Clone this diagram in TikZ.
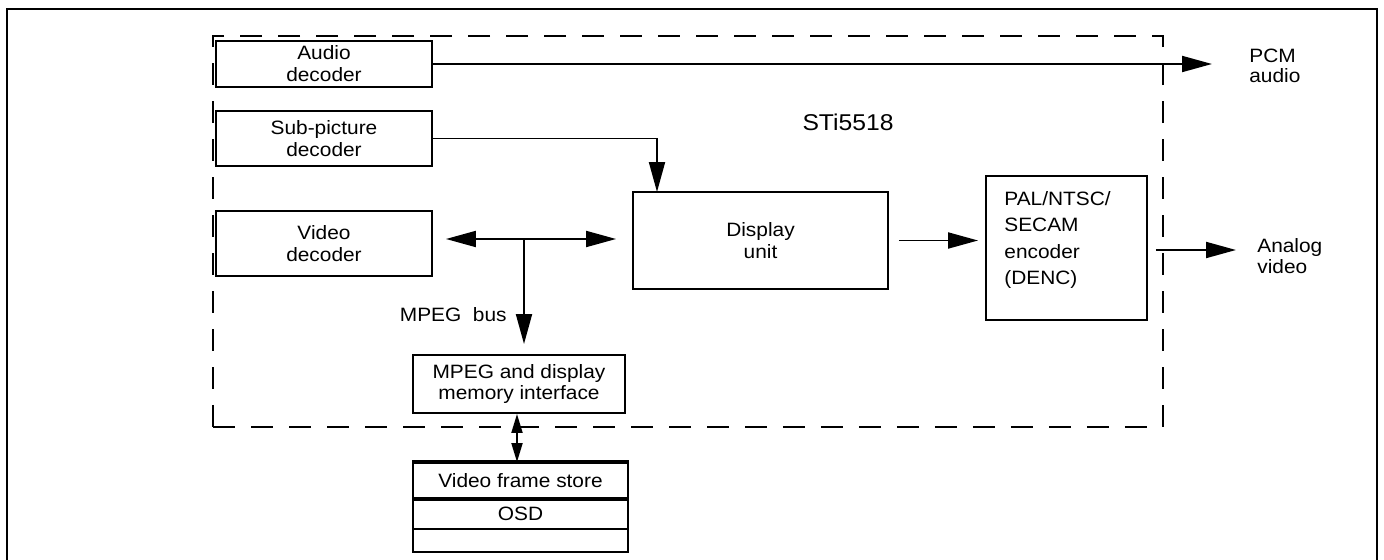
\documentclass[tikz,border=0pt]{standalone}
\usepackage{fontspec}
\setmainfont{Liberation Sans}[FakeStretch=1.08]
\usetikzlibrary{arrows.meta,positioning,calc}

\tikzset{
  blockbox/.style={draw, line width=1.1pt, inner sep=0pt, align=center,
    font=\fontsize{11}{12.5}\selectfont},
  chipbox/.style={draw, line width=1.1pt, dash pattern=on 0.44cm off 0.32cm},
  sigline/.style={line width=1.1pt, -{Triangle[length=0.6cm,width=0.32cm]}},
  busline/.style={line width=1.1pt,
    {Triangle[length=0.6cm,width=0.32cm]}-{Triangle[length=0.6cm,width=0.32cm]}},
  memline/.style={line width=1.1pt,
    {Triangle[length=0.38cm,width=0.22cm]}-{Triangle[length=0.38cm,width=0.22cm]}},
  outlabel/.style={anchor=west, inner sep=0pt, align=left,
    font=\fontsize{11}{11.5}\selectfont}
}

\begin{document}
\begin{tikzpicture}[x=0.02cm, y=-0.02cm]
\useasboundingbox (0,0) rectangle (1384,560);

% -------- Outer frame --------
\draw[line width=1.3pt] (7,560) -- (7,9) -- (1377,9) -- (1377,560);

% -------- Chip boundary (dashed) --------
\node[chipbox, minimum width=19cm, minimum height=7.82cm] (chip) at (688,231.5) {};
\node[font=\fontsize{13}{15}\selectfont] (chipname) at (848,122) {STi5518};

% -------- Decoders --------
\node[blockbox, minimum width=4.32cm, minimum height=0.92cm] (audio) at (324,64)
{Audio\\decoder};
\node[blockbox, minimum width=4.32cm, minimum height=1.1cm] (sub) at (324,138.5)
{Sub-picture\\decoder};
\node[blockbox, minimum width=4.32cm, minimum height=1.3cm] (video) at (324,243.5)
{Video\\decoder};

% -------- Display and encoder --------
\node[blockbox, minimum width=5.1cm, minimum height=1.94cm] (display) at (760.5,240.5)
{Display\\unit};
\node[blockbox, minimum width=3.22cm, minimum height=2.88cm] (denc) at (1066.5,248) {};
\node[anchor=north west, inner sep=0pt, align=left, font=\fontsize{11}{15}\selectfont]
(denctext) at ([xshift=0.38cm,yshift=-0.32cm]denc.north west)
{PAL/NTSC/\\SECAM\\encoder\\(DENC)};

% -------- Memory interface and frame store --------
\node[blockbox, minimum width=4.24cm, minimum height=1.16cm] (memif) at (519,384)
{MPEG and display\\memory interface};
\node[blockbox, minimum width=4.3cm, minimum height=0.7cm] (frame) at (520.5,480.5)
{Video frame store};
\node[blockbox, minimum width=4.3cm, minimum height=0.62cm] (osd) at (520.5,513.5)
{OSD};
\node[blockbox, minimum width=4.3cm, minimum height=0.46cm] (spare) at (520.5,540.5) {};
\draw[line width=2pt] (frame.north west) -- (frame.north east);
\draw[line width=2pt] (frame.south west) -- (frame.south east);

% -------- Outputs --------
\coordinate (pcmend) at (1212,64);
\node[outlabel] (pcm) at (1249,66) {PCM\\audio};
\coordinate (analogend) at (1236,250);
\node[outlabel] (analog) at (1257,256) {Analog\\video};

% -------- Connectors --------
\coordinate (subin) at (657,192);
\coordinate (busjoint) at (524,239);
\draw[sigline] (audio.east) -- (pcmend);
\draw[sigline] (sub.east) -| (subin);
\draw[busline, shorten <=0.26cm, shorten >=0.32cm] (busjoint -| video.east) -- (busjoint -| display.west);
\draw[sigline, shorten >=0.2cm] (busjoint) -- (busjoint |- memif.north);
\node[anchor=east, inner sep=0pt, font=\fontsize{11}{12.5}\selectfont] (buslabel) at (507,315) {MPEG~ bus};
\draw[sigline, shorten <=0.2cm, shorten >=0.14cm] (display.east) -- (display.east -| denc.west);
\draw[sigline, shorten <=0.16cm] (denc.east |- analogend) -- (analogend);
\draw[memline] ([xshift=-0.04cm]memif.south) -- ([xshift=-0.04cm]memif.south |- frame.north);

\end{tikzpicture}
\end{document}
